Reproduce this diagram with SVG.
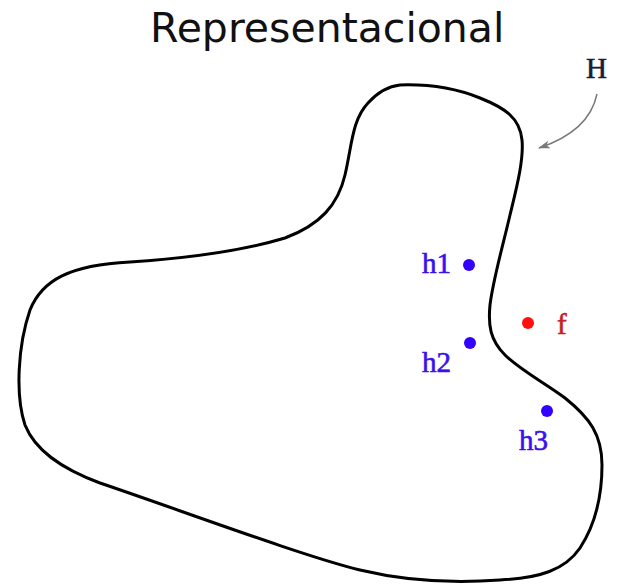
<svg xmlns="http://www.w3.org/2000/svg" width="619" height="586" viewBox="0 0 619 586">
<style>
.title{font-family:"DejaVu Sans",sans-serif;font-size:41px;fill:#111}
.lbl{font-family:"Liberation Serif","Times New Roman",serif;font-size:29px;stroke-width:0.6}
.blue{fill:#3a10ee;stroke:#3a10ee}
.hd{fill:#3300ff}
</style>
<defs>
<marker id="ah" viewBox="0 0 12 8" refX="11" refY="4" markerWidth="12" markerHeight="8" markerUnits="userSpaceOnUse" orient="auto">
<path d="M0,0 L12,4 L0,8 L3,4 Z" fill="#7a7a7a"/>
</marker>
</defs>
<rect width="619" height="586" fill="#fff"/>
<text class="title" x="150" y="42">Representacional</text>
<g id="region">
<path d="M 400,85 C 430,84 455,88 480,98 C 505,108 520,118 522,140 C 524,160 516,190 510,215 C 503,245 493,280 490,305 C 488,325 490,340 505,355 C 520,370 545,383 565,398 C 590,418 602,435 602,465 C 602,495 595,525 580,548 C 565,570 540,578 500,580 C 460,583 410,582 360,570 C 300,555 180,510 100,483 C 60,468 35,450 25,425 C 15,395 18,345 30,310 C 42,280 70,265 130,262 C 190,258 245,250 285,238 C 320,225 338,205 345,175 C 352,145 352,120 368,103 C 378,92 390,86 400,85 Z" fill="none" stroke="#000" stroke-width="3"/>
</g>
<g id="H">
<text class="lbl" x="586" y="78" fill="#1a1a3a" stroke="#1a1a3a">H</text>
</g>
<g id="connectors">
<path d="M 597,94 C 592,118 575,136 539,148" fill="none" stroke="#7a7a7a" stroke-width="1.5" marker-end="url(#ah)"/>
</g>
<g id="h1">
<circle class="hd" cx="469" cy="265" r="6"/>
<text class="lbl blue" x="422" y="273">h1</text>
</g>
<g id="h2">
<circle class="hd" cx="470" cy="343" r="6"/>
<text class="lbl blue" x="422" y="372">h2</text>
</g>
<g id="h3">
<circle class="hd" cx="547" cy="411" r="6"/>
<text class="lbl blue" x="519" y="450">h3</text>
</g>
<g id="f">
<circle cx="528" cy="323" r="6" fill="#ff1010"/>
<text class="lbl" x="557" y="334" fill="#c81e1e" stroke="#c81e1e">f</text>
</g>
</svg>
